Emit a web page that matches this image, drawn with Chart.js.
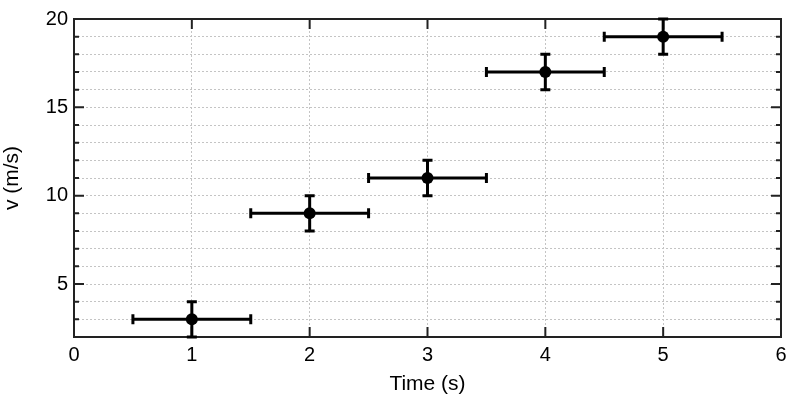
<!DOCTYPE html>
<html>
<head>
<meta charset="utf-8">
<script src="https://cdn.jsdelivr.net/npm/chart.js@4"></script>
<style>
  html, body { margin: 0; padding: 0; background: #fff; }
</style>
</head>
<body>
<canvas id="chart" width="800" height="400"></canvas>
<script>
// measurements: time (s) and speed (m/s) with their uncertainties
const times = [1, 2, 3, 4, 5];
const speeds = [3, 9, 11, 17, 19];
const timeErr = [0.5, 0.5, 0.5, 0.5, 0.5];
const speedErr = [1, 1, 1, 1, 1];

// axis ranges and which y ticks get a label
const xRange = [0, 6];
const yRange = [2, 20];
const yLabelEvery = 5;

const FONT = "'Liberation Sans', Arial, Helvetica, sans-serif";

// box around the plot plus inward tick marks on all four sides
const frame = {
    id: 'frame',
    beforeDatasetsDraw(chart) {
        const {ctx, chartArea: a, scales: {x, y}} = chart;
        ctx.save();
        ctx.strokeStyle = '#222';
        ctx.lineWidth = 2;
        ctx.beginPath();
        y.ticks.forEach(tk => {
            const py = y.getPixelForValue(tk.value);
            const len = tk.value % yLabelEvery === 0 ? 10 : 5;
            ctx.moveTo(a.left, py); ctx.lineTo(a.left + len, py);
            ctx.moveTo(a.right, py); ctx.lineTo(a.right - len, py);
        });
        x.ticks.forEach(tk => {
            const px = x.getPixelForValue(tk.value);
            ctx.moveTo(px, a.bottom); ctx.lineTo(px, a.bottom - 10);
            ctx.moveTo(px, a.top); ctx.lineTo(px, a.top + 10);
        });
        ctx.stroke();
        ctx.strokeRect(a.left, a.top, a.right - a.left, a.bottom - a.top);
        ctx.restore();
    }
};

// error bars drawn over the frame but under the markers
const errorBars = {
    id: 'errorBars',
    beforeDatasetsDraw(chart) {
        const {ctx, scales: {x, y}} = chart;
        ctx.save();
        ctx.strokeStyle = '#000';
        ctx.lineWidth = 3;
        ctx.lineCap = 'butt';
        times.forEach((t, i) => {
            const px = x.getPixelForValue(t);
            const py = y.getPixelForValue(speeds[i]);
            const xl = x.getPixelForValue(t - timeErr[i]);
            const xr = x.getPixelForValue(t + timeErr[i]);
            const yt = y.getPixelForValue(speeds[i] + speedErr[i]);
            const yb = y.getPixelForValue(speeds[i] - speedErr[i]);
            ctx.beginPath();
            ctx.moveTo(xl, py); ctx.lineTo(xr, py);
            ctx.moveTo(xl, py - 5); ctx.lineTo(xl, py + 5);
            ctx.moveTo(xr, py - 5); ctx.lineTo(xr, py + 5);
            ctx.moveTo(px, yt); ctx.lineTo(px, yb);
            ctx.moveTo(px - 5, yt); ctx.lineTo(px + 5, yt);
            ctx.moveTo(px - 5, yb); ctx.lineTo(px + 5, yb);
            ctx.stroke();
        });
        ctx.restore();
    }
};

new Chart(document.getElementById('chart'), {
    type: 'scatter',
    data: {
        datasets: [{
            data: times.map((t, i) => ({x: t, y: speeds[i]})),
            pointRadius: 6,
            pointHoverRadius: 6,
            backgroundColor: '#000',
            borderWidth: 0
        }]
    },
    options: {
        responsive: false,
        animation: false,
        clip: false,
        layout: { padding: {top: 19, right: 19, left: 0, bottom: 0} },
        plugins: { legend: { display: false }, tooltip: { enabled: false } },
        scales: {
            x: {
                min: xRange[0], max: xRange[1],
                afterFit(s) { s.height = 63; },
                grid: { color: '#c4c4c4', lineWidth: 1, drawTicks: false },
                border: { display: false, dash: [2, 2] },
                ticks: { stepSize: 1, autoSkip: false, maxRotation: 0, padding: 6, color: '#000', font: {family: FONT, size: 20} },
                title: { display: true, text: 'Time (s)', color: '#000', padding: {top: 0, bottom: 3}, font: {family: FONT, size: 21} }
            },
            y: {
                min: yRange[0], max: yRange[1],
                afterFit(s) { s.width = 74; },
                grid: { color: '#c4c4c4', lineWidth: 1, drawTicks: false },
                border: { display: false, dash: [2, 2] },
                ticks: {
                    stepSize: 1, autoSkip: false, padding: 6, color: '#000', font: {family: FONT, size: 20},
                    callback: v => (v % yLabelEvery === 0 ? v : '')
                },
                title: { display: true, text: 'v (m/s)', color: '#000', padding: {top: 0, bottom: 0}, font: {family: FONT, size: 21} }
            }
        }
    },
    plugins: [frame, errorBars]
});
</script>
</body>
</html>
